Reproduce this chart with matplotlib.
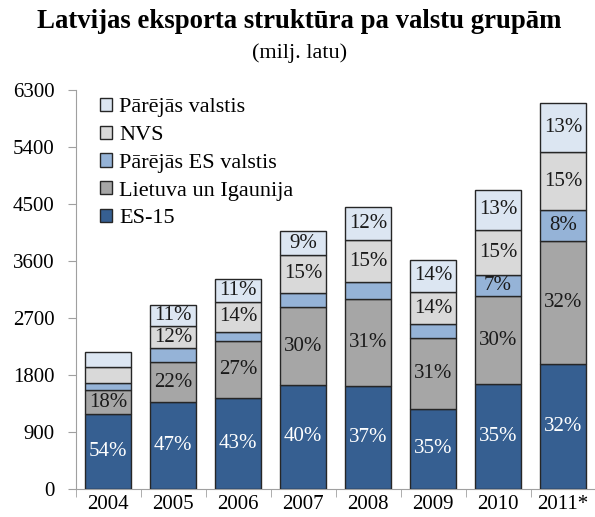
import matplotlib
matplotlib.use("Agg")
import matplotlib.pyplot as plt
import numpy as np
from matplotlib.patches import Patch

years = ["2004", "2005", "2006", "2007", "2008", "2009", "2010", "2011*"]
es15 = [1171, 1361, 1425, 1631, 1619, 1255, 1646, 1972]
lietuva = [389, 633, 912, 1235, 1377, 1124, 1403, 1938]
parejas_es = [101, 222, 142, 227, 264, 217, 328, 500]
nvs = [253, 353, 465, 597, 665, 507, 708, 902]
parejas = [237, 332, 364, 374, 527, 516, 638, 787]

lbl_es15 = ["54%", "47%", "43%", "40%", "37%", "35%", "35%", "32%"]
lbl_lietuva = ["18%", "22%", "27%", "30%", "31%", "31%", "30%", "32%"]
lbl_parejas_es = ["", "", "", "", "", "", "7%", "8%"]
lbl_nvs = ["", "12%", "14%", "15%", "15%", "14%", "15%", "15%"]
lbl_parejas = ["", "11%", "11%", "9%", "12%", "14%", "13%", "13%"]

series = [
    ("ES-15", es15, lbl_es15, "#365F91", "white"),
    ("Lietuva un Igaunija", lietuva, lbl_lietuva, "#A6A6A6", "#1a1a1a"),
    ("Pārējās ES valstis", parejas_es, lbl_parejas_es, "#95B3D7", "#1a1a1a"),
    ("NVS", nvs, lbl_nvs, "#D9D9D9", "#1a1a1a"),
    ("Pārējās valstis", parejas, lbl_parejas, "#DCE6F2", "#1a1a1a"),
]

plt.rcParams['font.family'] = ['Liberation Serif', 'DejaVu Serif']

fig = plt.figure(figsize=(5.95, 5.17), dpi=100)
ax = fig.add_axes([75.5 / 595, 1 - 488.5 / 517, 520 / 595, 398.5 / 517])

x = np.arange(len(years))
bottom = np.zeros(len(years))
handles = []
for name, vals, lbls, color, tcolor in series:
    vals = np.array(vals, dtype=float)
    ax.bar(x, vals, bottom=bottom, width=0.71, color=color,
           edgecolor="#262626", linewidth=1.0, zorder=3)
    for i, (v, l) in enumerate(zip(vals, lbls)):
        if l:
            ax.text(x[i], bottom[i] + v / 2, l, ha="center", va="center",
                    fontsize=15, color=tcolor, zorder=4)
    bottom += vals
    handles.append(Patch(facecolor=color, edgecolor="#262626", linewidth=1.0, label=name))

ax.set_xlim(-0.5, len(years) - 0.5)
ax.set_ylim(0, 6300)
ax.set_yticks(np.arange(0, 6301, 900))
ax.set_yticklabels([str(v) for v in range(0, 6301, 900)], fontsize=15)
ax.set_xticks(x)
ax.set_xticklabels(years, fontsize=15)
ax.set_xticks(np.arange(-0.5, len(years), 1.0), minor=True)
ax.tick_params(axis="x", which="major", length=0, pad=5)
ax.tick_params(axis="x", which="minor", length=6, color="#A0A0A0", direction="out")
ax.tick_params(axis="y", length=6, color="#A0A0A0", direction="out", pad=9)

for s in ["top", "right"]:
    ax.spines[s].set_visible(False)
ax.spines["left"].set_color("#A0A0A0")
ax.spines["bottom"].set_color("#A0A0A0")

leg = ax.legend(handles=handles[::-1], loc="upper left", bbox_to_anchor=(0.022, 1.014),
                frameon=False, fontsize=16, handlelength=0.55, handleheight=0.55,
                handletextpad=0.3, labelspacing=0.37, borderaxespad=0.2)

fig.text(0.503, 0.958, "Latvijas eksporta struktūra pa valstu grupām", ha="center",
         va="center", fontsize=19.3, fontweight="bold")
fig.text(0.503, 0.898, "(milj. latu)", ha="center", va="center", fontsize=16)

fig.savefig("out.png", dpi=100)
